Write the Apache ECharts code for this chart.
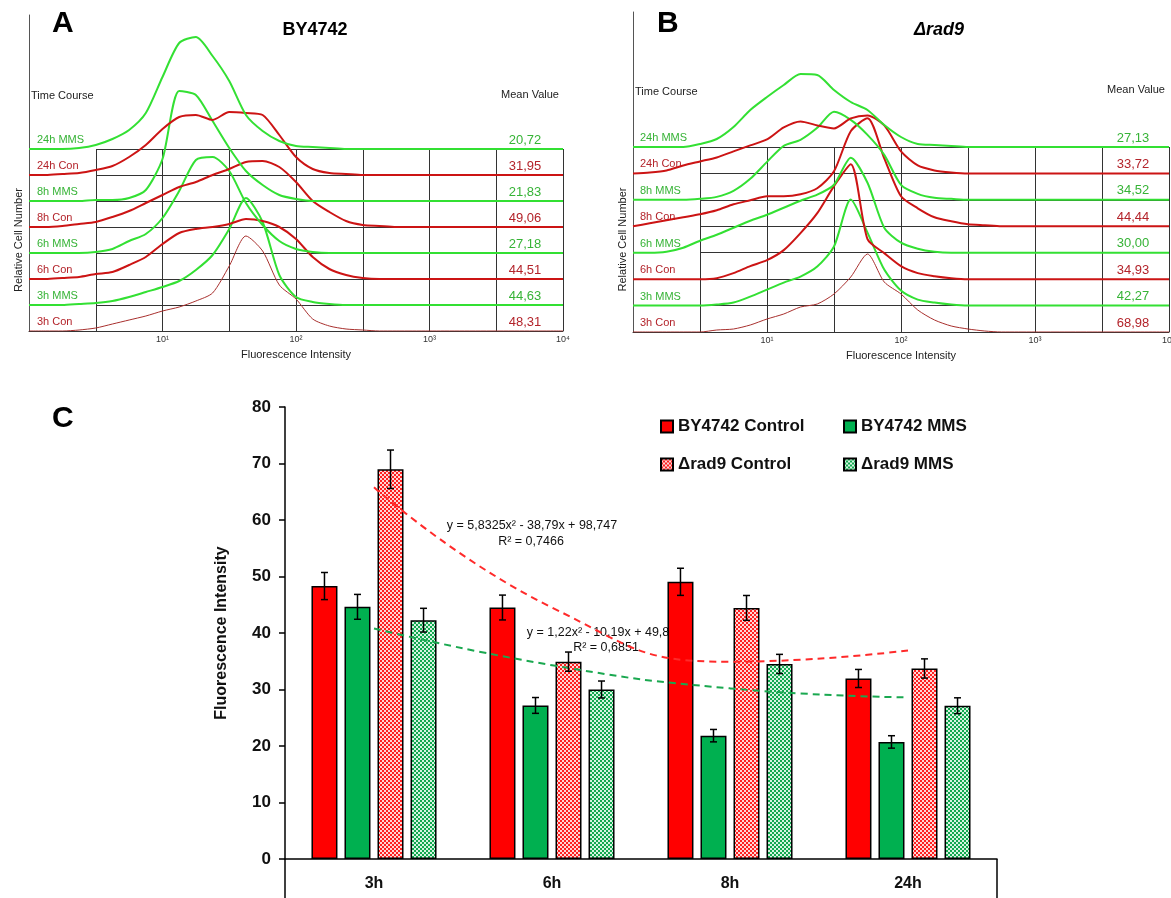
<!DOCTYPE html>
<html>
<head>
<meta charset="utf-8">
<title>Fluorescence intensity</title>
<script src="https://cdn.jsdelivr.net/npm/echarts@6/dist/echarts.min.js"></script>
<style>
  html, body { margin: 0; padding: 0; background: #fff; }
  #chart { width: 1171px; height: 898px; }
</style>
</head>
<body>
<div id="chart"></div>
<script>
// ---- histogram panels (A, B): x in decades of log10 intensity ----
const logX = [0, 0.125, 0.25, 0.375, 0.5, 0.625, 0.75, 0.875, 1, 1.125, 1.25, 1.375, 1.5,
  1.625, 1.75, 1.875, 2, 2.125, 2.25, 2.375, 2.5, 2.625, 2.75, 2.875, 3, 4];
const rowNames = ["3h Con", "3h MMS", "6h Con", "6h MMS", "8h Con", "8h MMS", "24h Con", "24h MMS"];

// BY4742 relative cell number per row
const by3hCon  = [0,0,0,1,3,7,11,15,20,24,30,38,65,95,80,46,32,12,5,2,1,0,0,0,0,0];
const by3hMms  = [0,0,0,1,2,4,8,13,18,24,35,50,76,107,83,30,8,3,1,0,0,0,0,0,0,0];
const by6hCon  = [0,0,1,2,5,7,14,22,35,46,50,52,55,60,58,52,40,22,10,4,1,0,0,0,0,0];
const by6hMms  = [0,0,0,0,1,4,12,19,35,62,93,96,82,50,28,12,4,1,0,0,0,0,0,0,0,0];
const by8hCon  = [0,0,1,3,5,10,16,24,32,40,45,52,58,65,66,60,45,26,15,6,2,1,0,0,0,0];
const by8hMms  = [0,0,0,0,1,1,3,11,42,110,106,80,53,30,16,6,2,0,0,0,0,0,0,0,0,0];
const by24hCon = [0,0,1,2,5,9,18,30,46,58,60,55,63,62,60,40,18,6,2,1,0,0,0,0,0,0];
const by24hMms = [0,0,0,1,4,10,19,36,72,106,112,93,68,34,18,8,3,2,1,0,0,0,0,0,0,0];

// Δrad9
const rad3hCon  = [0,0,0,0,0,2,3,7,13,18,25,28,38,55,78,50,38,22,12,6,3,1,0,0,0,0];
const rad3hMms  = [0,0,0,0,0,1,3,9,16,23,29,39,59,106,73,36,15,6,3,1,0,0,0,0,0,0];
const rad6hCon  = [0,0,0,0,0,1,6,13,19,29,46,66,93,115,40,26,13,6,3,1,0,0,0,0,0,0];
const rad6hMms  = [0,0,1,5,12,18,25,32,38,45,52,58,68,95,70,25,10,4,1,0,0,0,0,0,0,0];
const rad8hCon  = [0,3,6,9,12,16,22,26,30,30,32,38,55,95,108,68,30,18,9,5,2,1,0,0,0,0];
const rad8hMms  = [0,0,0,0,1,3,9,21,38,54,60,72,88,80,65,45,15,6,2,1,0,0,0,0,0,0];
const rad24hCon = [0,1,3,8,12,16,22,28,34,46,52,48,45,55,58,48,22,8,3,1,0,0,0,0,0,0];
const rad24hMms = [0,0,0,0,3,8,20,37,50,62,73,72,57,45,37,22,10,3,2,1,0,0,0,0,0,0];

const meanBY  = [48.31, 44.63, 44.51, 27.18, 49.06, 21.83, 31.95, 20.72];
const meanRad = [68.98, 42.27, 34.93, 30.00, 44.44, 34.52, 33.72, 27.13];

// ---- bar panel (C) ----
const categories = ["3h", "6h", "8h", "24h"];
const byControl  = [48.31, 44.51, 49.06, 31.95];
const byMms      = [44.63, 27.18, 21.83, 20.72];
const radControl = [68.98, 34.93, 44.44, 33.72];
const radMms     = [42.27, 30.00, 34.52, 27.13];
const byControlErr  = [2.4, 2.2, 2.4, 1.6];
const byMmsErr      = [2.2, 1.4, 1.1, 1.1];
const radControlErr = [3.4, 1.7, 2.2, 1.7];
const radMmsErr     = [2.1, 1.5, 1.7, 1.4];
// polynomial trendline values at 3h..24h
const radControlTrend = [65.8, 44.5, 34.9, 36.9];
const radMmsTrend     = [40.8, 34.3, 30.2, 28.6];

const FONT = "'Liberation Sans', Arial, sans-serif";
const GREEN_LINE = "#33e033";
const RED_LINE = "#cc1414";
const GREEN_TXT = "#36b336";
const RED_TXT = "#b3232a";

const chart = echarts.init(document.getElementById("chart"));

// panel geometry
const panels = [
  { hist: [by3hCon, by3hMms, by6hCon, by6hMms, by8hCon, by8hMms, by24hCon, by24hMms], means: meanBY,
    left: 29, width: 534, top: 15, bottom: 331, gridLeft: 96, gridTop: 149,
    labelX: 37, meanX: 525, title: "BY4742", titleX: 315, letter: "A", letterX: 52,
    timeX: 31, timeY: 96, meanTitleX: 530, meanTitleY: 95, italic: false },
  { hist: [rad3hCon, rad3hMms, rad6hCon, rad6hMms, rad8hCon, rad8hMms, rad24hCon, rad24hMms], means: meanRad,
    left: 633, width: 536, top: 12, bottom: 332, gridLeft: 700, gridTop: 147,
    labelX: 640, meanX: 1133, title: "\u0394rad9", titleX: 939, letter: "B", letterX: 657,
    timeX: 635, timeY: 92, meanTitleX: 1136, meanTitleY: 90, italic: true }
];

const grids = [], xAxes = [], yAxes = [], series = [], graphics = [];
const sup = { 1: "10\u00b9", 2: "10\u00b2", 3: "10\u00b3", 4: "10\u2074" };

panels.forEach((p, pi) => {
  const h = p.bottom - p.top;
  const rowStep = (p.bottom - p.gridTop) / 7;
  const right = 1171 - p.left - p.width;
  grids.push({ left: p.left, right: right, top: p.top, bottom: 898 - p.bottom, outerBoundsMode: "none" });
  grids.push({ left: p.gridLeft, right: right, top: p.gridTop, bottom: 898 - p.bottom, outerBoundsMode: "none" });
  const g1 = pi * 2, g2 = pi * 2 + 1;
  xAxes.push({
    gridIndex: g1, type: "value", min: 0, max: 4, interval: 0.5,
    axisLine: { show: true, lineStyle: { color: "#333", width: 1 } },
    axisTick: { show: false }, splitLine: { show: false },
    axisLabel: { fontSize: 9, color: "#333", margin: 4, fontFamily: FONT,
      formatter: v => sup[v] || "" },
    name: "Fluorescence Intensity", nameLocation: "middle", nameGap: 18,
    nameTextStyle: { fontSize: 11, color: "#222", fontFamily: FONT }
  });
  xAxes.push({
    gridIndex: g2, type: "value", min: 0.5, max: 4, interval: 0.5,
    axisLine: { show: false }, axisTick: { show: false }, axisLabel: { show: false },
    splitLine: { show: true, lineStyle: { color: "#333", width: 1 } }
  });
  yAxes.push({
    gridIndex: g1, type: "value", min: 0, max: h,
    axisLine: { show: true, lineStyle: { color: "#555", width: 1 } },
    axisTick: { show: false }, axisLabel: { show: false }, splitLine: { show: false }
  });
  yAxes.push({
    gridIndex: g2, type: "value", min: 0, max: 7, interval: 1,
    axisLine: { show: false }, axisTick: { show: false }, axisLabel: { show: false },
    splitLine: { show: true, lineStyle: { color: "#333", width: 1 } },
    name: "Relative Cell Number", nameLocation: "middle", nameGap: 72,
    nameRotate: 90, nameTextStyle: { fontSize: 11, color: "#222", fontFamily: FONT }
  });

  p.hist.forEach((vals, k) => {
    const isMms = k % 2 === 1;
    const base = k * rowStep;
    series.push({
      type: "line", xAxisIndex: g1, yAxisIndex: g1, silent: true,
      data: logX.map((x, i) => [x, vals[i] + base]),
      showSymbol: false, smooth: 0.25, z: 3,
      lineStyle: {
        color: k === 0 ? "#a8302e" : (isMms ? GREEN_LINE : RED_LINE),
        width: k === 0 ? 1 : 2
      }
    });
    const y = p.bottom - base - 9;
    graphics.push({ type: "text", x: p.labelX, y: y, silent: true,
      style: { text: rowNames[k], fontSize: 11, fontFamily: FONT, fill: isMms ? GREEN_TXT : RED_TXT, verticalAlign: "middle" } });
    graphics.push({ type: "text", x: p.meanX, y: y, silent: true,
      style: { text: p.means[k].toFixed(2).replace(".", ","), fontSize: 13, fontFamily: FONT,
        fill: isMms ? GREEN_TXT : RED_TXT, align: "center", verticalAlign: "middle" } });
  });

  graphics.push({ type: "text", x: p.letterX, y: 24, style: { text: p.letter, fontSize: 30, fontWeight: "bold", fontFamily: FONT, fill: "#000", verticalAlign: "middle" } });
  graphics.push({ type: "text", x: p.titleX, y: 30, style: { text: p.title, fontSize: 18, fontWeight: "bold", fontStyle: p.italic ? "italic" : "normal", fontFamily: FONT, fill: "#000", align: "center", verticalAlign: "middle" } });
  graphics.push({ type: "text", x: p.timeX, y: p.timeY, style: { text: "Time Course", fontSize: 11, fontFamily: FONT, fill: "#222", verticalAlign: "middle" } });
  graphics.push({ type: "text", x: p.meanTitleX, y: p.meanTitleY, style: { text: "Mean Value", fontSize: 11, fontFamily: FONT, fill: "#222", align: "center", verticalAlign: "middle" } });
});

// ---- panel C ----
function checker(c1, c2) {
  const cv = document.createElement("canvas");
  cv.width = 4; cv.height = 4;
  const ctx = cv.getContext("2d");
  ctx.fillStyle = c2; ctx.fillRect(0, 0, 4, 4);
  ctx.fillStyle = c1; ctx.fillRect(0, 0, 2, 2); ctx.fillRect(2, 2, 2, 2);
  return { image: cv, repeat: "repeat" };
}

const cGrid = grids.length;
grids.push({ left: 285, right: 174, top: 407, bottom: 39, outerBoundsMode: "none" });
xAxes.push({
  gridIndex: cGrid, type: "category", data: categories,
  axisLine: { show: true, lineStyle: { color: "#000", width: 1.5 } },
  axisTick: { show: false },
  axisLabel: { fontSize: 16, fontWeight: "bold", color: "#111", margin: 17, fontFamily: FONT }
});
yAxes.push({
  gridIndex: cGrid, type: "value", min: 0, max: 80, interval: 10,
  axisLine: { show: true, lineStyle: { color: "#000", width: 1.5 } },
  axisTick: { show: true, inside: false, length: 6, lineStyle: { color: "#000", width: 1.5 } },
  axisLabel: { fontSize: 17, fontWeight: "bold", color: "#111", margin: 14, fontFamily: FONT },
  splitLine: { show: false },
  name: "Fluorescence Intensity", nameLocation: "middle", nameGap: 55,
  nameTextStyle: { fontSize: 16, fontWeight: "bold", color: "#111", fontFamily: FONT }
});

const BAR_W = 26, BAR_GAP = 0.27;
const step = BAR_W * (1 + BAR_GAP);
const barDefs = [
  { name: "BY4742 Control", vals: byControl, errs: byControlErr, color: "#ff0000" },
  { name: "BY4742 MMS", vals: byMms, errs: byMmsErr, color: "#00b050" },
  { name: "\u0394rad9 Control", vals: radControl, errs: radControlErr, color: checker("#ff2020", "#ffd6d6") },
  { name: "\u0394rad9 MMS", vals: radMms, errs: radMmsErr, color: checker("#12a850", "#d6f4e0") }
];

barDefs.forEach((b) => {
  series.push({
    name: b.name, type: "bar", xAxisIndex: cGrid, yAxisIndex: cGrid,
    data: b.vals, barWidth: BAR_W, barGap: (BAR_GAP * 100) + "%", z: 2,
    itemStyle: { color: b.color, borderColor: "#000", borderWidth: 1.5 }
  });
});

series.push({
  name: "trend control", type: "line", xAxisIndex: cGrid, yAxisIndex: cGrid,
  data: radControlTrend, smooth: true, symbol: "none", z: 4, silent: true,
  lineStyle: { color: "#ff2a2a", width: 2, type: [7, 5] }
});
series.push({
  name: "trend mms", type: "line", xAxisIndex: cGrid, yAxisIndex: cGrid,
  data: radMmsTrend, smooth: true, symbol: "none", z: 4, silent: true,
  lineStyle: { color: "#1aa850", width: 2, type: [7, 5] }
});

barDefs.forEach((b, bi) => {
  const offset = (bi - 1.5) * step;
  series.push({
    name: b.name + " error", type: "custom", xAxisIndex: cGrid, yAxisIndex: cGrid, z: 6, silent: true,
    data: b.vals.map((v, i) => [i, v, b.errs[i]]),
    encode: { x: 0, y: 1 },
    renderItem(params, api) {
      const i = api.value(0), v = api.value(1), e = api.value(2);
      const hi = api.coord([i, v + e]), lo = api.coord([i, v - e]);
      const x = hi[0] + offset;
      const st = { stroke: "#000", lineWidth: 1.5 };
      return {
        type: "group", children: [
          { type: "line", shape: { x1: x, y1: hi[1], x2: x, y2: lo[1] }, style: st },
          { type: "line", shape: { x1: x - 3.5, y1: hi[1], x2: x + 3.5, y2: hi[1] }, style: st },
          { type: "line", shape: { x1: x - 3.5, y1: lo[1], x2: x + 3.5, y2: lo[1] }, style: st }
        ]
      };
    }
  });
});

const legendBase = {
  orient: "horizontal", icon: "rect", itemWidth: 12, itemHeight: 12,
  textStyle: { fontSize: 17, fontWeight: "bold", color: "#111", fontFamily: FONT },
  selectedMode: false
};
const legends = [
  Object.assign({}, legendBase, { data: ["BY4742 Control"], left: 655, top: 413 }),
  Object.assign({}, legendBase, { data: ["BY4742 MMS"], left: 838, top: 413 }),
  Object.assign({}, legendBase, { data: ["\u0394rad9 Control"], left: 655, top: 451 }),
  Object.assign({}, legendBase, { data: ["\u0394rad9 MMS"], left: 838, top: 451 })
];

// panel C decorations
graphics.push({ type: "text", x: 52, y: 419, style: { text: "C", fontSize: 30, fontWeight: "bold", fontFamily: FONT, fill: "#000", verticalAlign: "middle" } });
graphics.push({ type: "line", shape: { x1: 285, y1: 859, x2: 285, y2: 898 }, style: { stroke: "#000", lineWidth: 1.5 } });
graphics.push({ type: "line", shape: { x1: 997, y1: 859, x2: 997, y2: 898 }, style: { stroke: "#000", lineWidth: 1.5 } });
graphics.push({ type: "text", x: 532, y: 526, style: { text: "y = 5,8325x\u00b2 - 38,79x + 98,747", fontSize: 12.5, fontFamily: FONT, fill: "#111", align: "center", verticalAlign: "middle" } });
graphics.push({ type: "text", x: 531, y: 542, style: { text: "R\u00b2 = 0,7466", fontSize: 12.5, fontFamily: FONT, fill: "#111", align: "center", verticalAlign: "middle" } });
graphics.push({ type: "text", x: 605, y: 633, style: { text: "y = 1,22x\u00b2 - 10,19x + 49,805", fontSize: 12.5, fontFamily: FONT, fill: "#111", align: "center", verticalAlign: "middle" } });
graphics.push({ type: "text", x: 606, y: 648, style: { text: "R\u00b2 = 0,6851", fontSize: 12.5, fontFamily: FONT, fill: "#111", align: "center", verticalAlign: "middle" } });

chart.setOption({
  animation: false,
  backgroundColor: "#fff",
  textStyle: { fontFamily: FONT },
  grid: grids,
  xAxis: xAxes,
  yAxis: yAxes,
  legend: legends,
  series: series,
  graphic: graphics
});

window.addEventListener("resize", () => chart.resize());
</script>
</body>
</html>
